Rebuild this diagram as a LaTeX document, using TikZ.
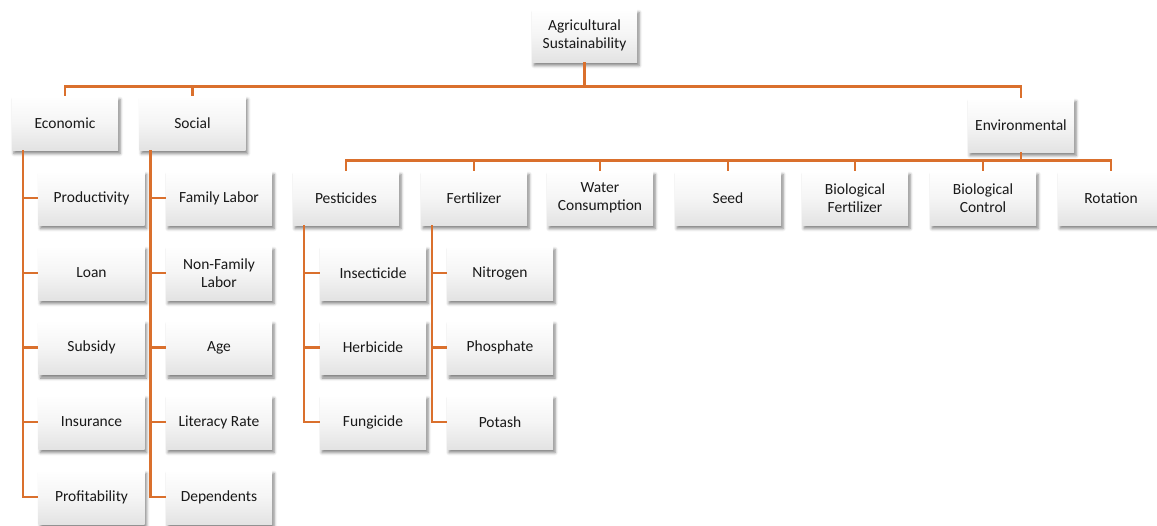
\documentclass[tikz,border=0pt]{standalone}
\usepackage{fontspec}
\setmainfont{Carlito}
\usetikzlibrary{shadows.blur}
\definecolor{conn}{RGB}{218,112,45}
\begin{document}
\begin{tikzpicture}[x=1pt,y=-1pt,
  box/.style={top color=white, bottom color=black!11, middle color=white!96!black, minimum width=106pt, minimum height=54pt,
    inner sep=2pt, align=center, font=\fontsize{15.5}{18.5}\selectfont, text=black!90,
    blur shadow={shadow xshift=2pt, shadow yshift=-3.5pt, shadow blur radius=3pt, shadow opacity=50}},
  link/.style={draw=conn, line width=2.6pt}]
\useasboundingbox (0,0) rectangle (1157,525);
% nodes
\node[box, minimum width=105pt, minimum height=53pt] (root) at (584.5,35.5) {Agricultural\\Sustainability};
\node[box] (econ) at (65,123) {Economic};
\node[box] (soc) at (192.5,123) {Social};
\node[box] (env) at (1021,125) {Environmental};
% environmental children
\node[box] (pest) at (346,198) {Pesticides};
\node[box] (fert) at (474,198) {Fertilizer};
\node[box] (water) at (600,198) {Water\\Consumption};
\node[box] (seed) at (728,198) {Seed};
\node[box] (biof) at (855,198) {Biological\\Fertilizer};
\node[box] (bioc) at (983,198) {Biological\\Control};
\node[box] (rot) at (1111,198) {Rotation};
% economic children
\node[box] (prod) at (91.5,198) {Productivity};
\node[box] (loan) at (91.5,273) {Loan};
\node[box] (subs) at (91.5,347.5) {Subsidy};
\node[box] (ins) at (91.5,422) {Insurance};
\node[box] (prof) at (91.5,497) {Profitability};
% social children
\node[box] (fam) at (219,198) {Family Labor};
\node[box] (nfam) at (219,273) {Non-Family\\Labor};
\node[box] (age) at (219,347.5) {Age};
\node[box] (lit) at (219,422) {Literacy Rate};
\node[box] (dep) at (219,497) {Dependents};
% pesticide children
\node[box] (insc) at (373,273) {Insecticide};
\node[box] (herb) at (373,347.5) {Herbicide};
\node[box] (fung) at (373,422) {Fungicide};
% fertilizer children
\node[box] (nit) at (500,273) {Nitrogen};
\node[box] (phos) at (500,347.5) {Phosphate};
\node[box] (pot) at (500,422) {Potash};
% connectors
\foreach \c in {econ,soc,env}
  \draw[link] (root.south) -- ++(0,24) -| (\c.north);
\foreach \c in {pest,fert,water,seed,biof,bioc,rot}
  \draw[link] (env.south) -- ++(0,8) -| (\c.north);
\foreach \c in {prod,loan,subs,ins,prof}
  \draw[link] ([xshift=11pt]econ.south west) |- (\c.west);
\foreach \c in {fam,nfam,age,lit,dep}
  \draw[link] ([xshift=11pt]soc.south west) |- (\c.west);
\foreach \c in {insc,herb,fung}
  \draw[link] ([xshift=11pt]pest.south west) |- (\c.west);
\foreach \c in {nit,phos,pot}
  \draw[link] ([xshift=11pt]fert.south west) |- (\c.west);
\end{tikzpicture}
\end{document}
